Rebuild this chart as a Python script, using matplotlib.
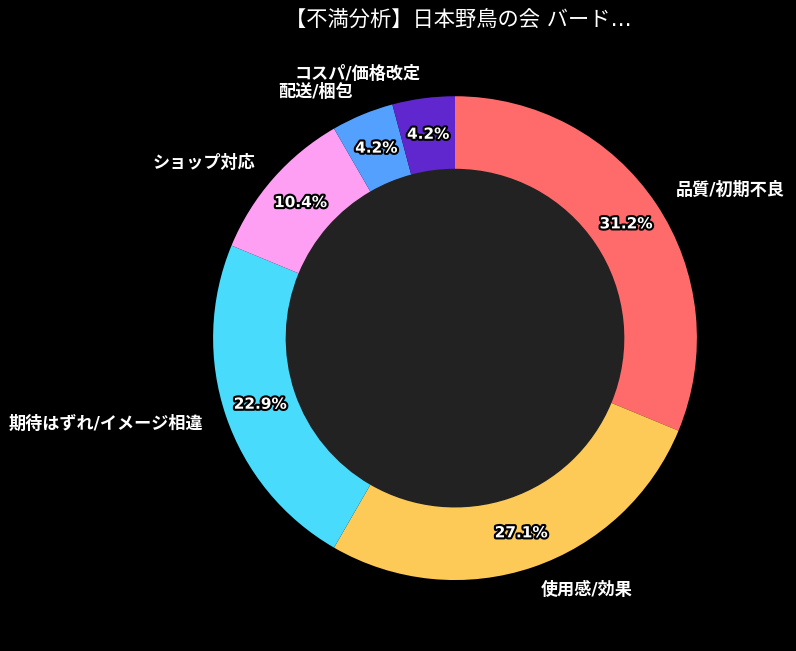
import matplotlib
matplotlib.use("Agg")
import matplotlib.pyplot as plt
import matplotlib.patheffects as pe

plt.rcParams['font.family'] = ['DejaVu Sans', 'Noto Sans CJK JP']

title = '【不満分析】日本野鳥の会 バード…'
categories = ['品質/初期不良', '使用感/効果', '期待はずれ/イメージ相違',
              'ショップ対応', '配送/梱包', 'コスパ/価格改定']
counts = [15, 13, 11, 5, 2, 2]
colors = ['#ff6b6b', '#feca57', '#48dbfb', '#ff9ff3', '#54a0ff', '#5f27cd']

fig = plt.figure(figsize=(7.96, 6.51), dpi=100, facecolor='black')
ax = fig.add_axes([0.1916, 0.0161, 0.760, 0.929])
ax.set_facecolor('black')

wedges, texts, autotexts = ax.pie(
    counts, labels=categories, colors=colors, startangle=90, counterclock=False,
    autopct='%1.1f%%', pctdistance=0.85, labeldistance=1.1,
    wedgeprops=dict(width=0.3, linewidth=0),
    textprops=dict(color='white', fontsize=12.3, fontweight='bold'))

for t in autotexts:
    t.set_fontsize(11)
    t.set_color('white')
    t.set_path_effects([pe.withStroke(linewidth=3, foreground='black')])

centre = plt.Circle((0, 0), 0.7, color='#222222', zorder=0.5)
ax.add_artist(centre)

ax.set_xlim(-1.25, 1.25)
ax.set_ylim(-1.25, 1.25)
ax.set_aspect('equal')

fig.text(458 / 796, 1 - 20 / 651, title, color='white', fontsize=15.3,
         ha='center', va='center')

fig.savefig('out.png', facecolor='black')
